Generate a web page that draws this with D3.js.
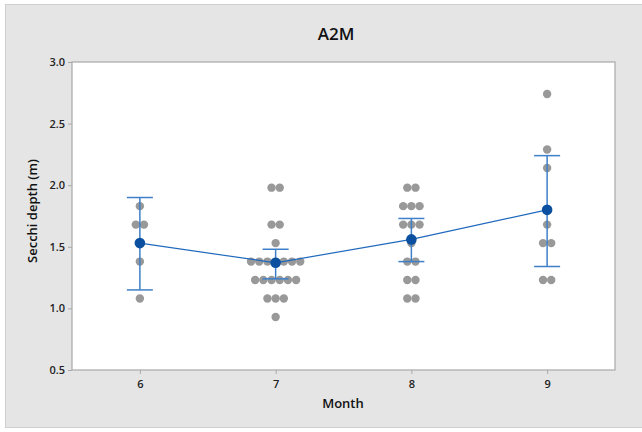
<!DOCTYPE html>
<html><head><meta charset="utf-8">
<script src="https://cdn.jsdelivr.net/npm/d3@7"></script>
<style>
html,body{margin:0;padding:0;background:#fff;}
text{font-family:"Open Sans","Noto Sans",sans-serif;}
</style></head>
<body><svg id="chart" width="642" height="432"></svg>
<script>
const months = [6, 7, 8, 9];
const obs6 = [1.83, 1.68, 1.68, 1.38, 1.08];
const obs7 = [1.98, 1.98, 1.68, 1.68, 1.53, 1.38, 1.38, 1.38, 1.38, 1.38, 1.38, 1.38, 1.23, 1.23, 1.23, 1.23, 1.23, 1.23, 1.08, 1.08, 1.08, 0.93];
const obs8 = [1.98, 1.98, 1.83, 1.83, 1.83, 1.68, 1.68, 1.68, 1.53, 1.38, 1.38, 1.23, 1.23, 1.08, 1.08];
const obs9 = [2.74, 2.29, 2.14, 1.68, 1.53, 1.53, 1.23, 1.23];
const means = [1.53, 1.37, 1.56, 1.80];
const ciLow = [1.15, 1.24, 1.38, 1.34];
const ciHigh = [1.90, 1.48, 1.73, 2.24];
const yTicks = [0.5, 1.0, 1.5, 2.0, 2.5, 3.0];

const svg = d3.select("#chart");
// outer panel
svg.append("rect").attr("x", 5.5).attr("y", 4.5).attr("width", 640).attr("height", 423)
  .attr("fill", "#e5e5e5").attr("stroke", "#cfcfcf").attr("stroke-width", 1);

const L = 72, R = 615, T = 62, B = 370;
const x = d3.scaleLinear().domain([5.5, 9.5]).range([L, R]);
const y = d3.scaleLinear().domain([0.5, 3.0]).range([B, T]);

svg.append("rect").attr("x", L).attr("y", T).attr("width", R - L).attr("height", B - T)
  .attr("fill", "#fff").attr("stroke", "#a8a8a8").attr("stroke-width", 1.2);

// axes
const yAxis = svg.append("g").attr("transform", `translate(${L},0)`)
  .call(d3.axisLeft(y).tickValues(yTicks).tickFormat(d3.format(".1f")).tickSize(4).tickPadding(3));
const xAxis = svg.append("g").attr("transform", `translate(0,${B})`)
  .call(d3.axisBottom(x).tickValues(months).tickFormat(d3.format("d")).tickSize(4).tickPadding(6));
[yAxis, xAxis].forEach(g => {
  g.select(".domain").remove();
  g.selectAll("line").attr("stroke", "#a8a8a8");
  g.selectAll("text").attr("fill", "#222").attr("font-size", 11).attr("font-weight", 600);
});

// titles
svg.append("text").attr("x", 336).attr("y", 40).attr("text-anchor", "middle")
  .attr("font-size", 17).attr("font-weight", 600).attr("fill", "#111").text("A2M");
svg.append("text").attr("x", 343).attr("y", 408).attr("text-anchor", "middle")
  .attr("font-size", 13).attr("font-weight", 600).attr("fill", "#111").text("Month");
svg.append("text").attr("transform", "translate(37,211) rotate(-90)").attr("text-anchor", "middle")
  .attr("font-size", 13).attr("font-weight", 600).attr("fill", "#111").text("Secchi depth (m)");

// individual observations (dot-stacked horizontally)
const obs = [obs6, obs7, obs8, obs9];
const spacing = 8.2;
const dots = [];
obs.forEach((arr, i) => {
  const groups = d3.group(arr, v => v);
  groups.forEach((vals, v) => {
    const n = vals.length;
    vals.forEach((_, k) => dots.push({m: months[i], v: v, off: (k - (n - 1) / 2) * spacing}));
  });
});
svg.append("g").selectAll("circle").data(dots).join("circle")
  .attr("cx", d => x(d.m) + d.off).attr("cy", d => y(d.v)).attr("r", 4.2)
  .attr("fill", "#999999");

// error bars
const eb = svg.append("g");
months.forEach((m, i) => {
  eb.append("line").attr("x1", x(m)).attr("x2", x(m)).attr("y1", y(ciLow[i])).attr("y2", y(ciHigh[i]))
    .attr("stroke", "#3d7fc9").attr("stroke-width", 1.5);
  [ciLow[i], ciHigh[i]].forEach(v => {
    eb.append("line").attr("x1", x(m) - 13).attr("x2", x(m) + 13).attr("y1", y(v)).attr("y2", y(v))
      .attr("stroke", "#3d7fc9").attr("stroke-width", 1.5);
  });
});

// mean line
svg.append("path").datum(months.map((m, i) => [m, means[i]]))
  .attr("d", d3.line().x(d => x(d[0])).y(d => y(d[1])))
  .attr("fill", "none").attr("stroke", "#1f69bd").attr("stroke-width", 1.2);

svg.append("g").selectAll("circle").data(months.map((m, i) => ({m, v: means[i]}))).join("circle")
  .attr("cx", d => x(d.m)).attr("cy", d => y(d.v)).attr("r", 5.3).attr("fill", "#0b50a0");
</script></body></html>
